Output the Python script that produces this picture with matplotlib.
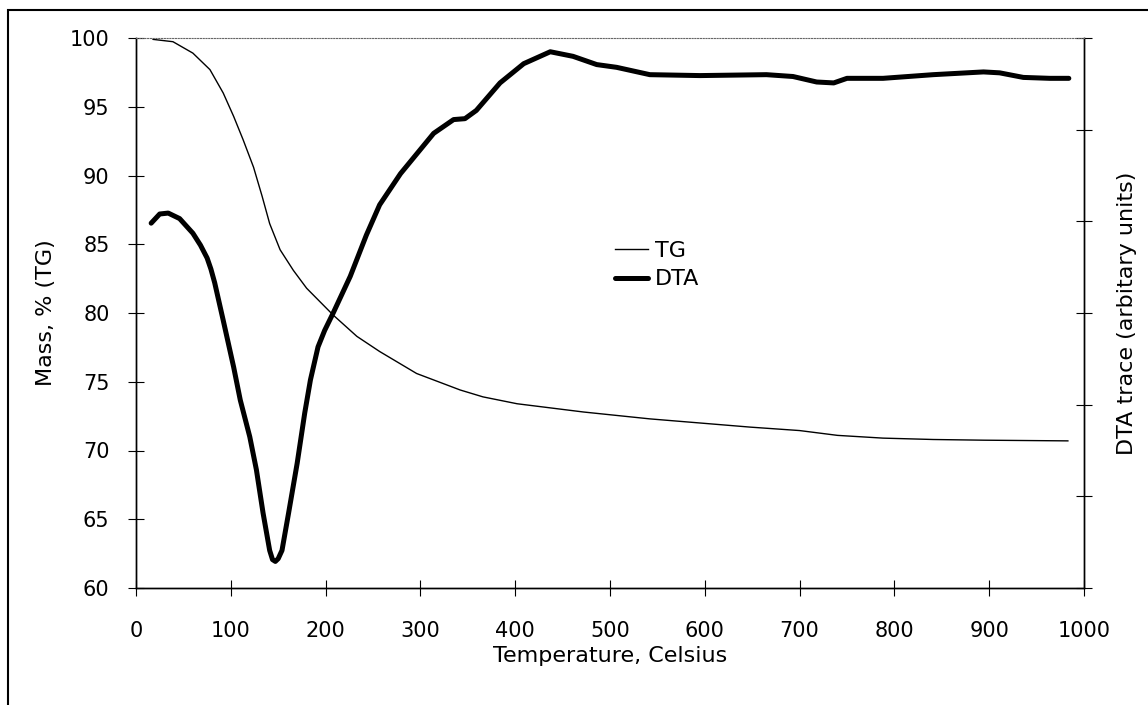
import matplotlib
matplotlib.use("Agg")
import matplotlib.pyplot as plt
from matplotlib.patches import Rectangle

# TG curve (mass %, left axis)
tg_temp = [18, 39, 60, 78, 92, 103, 113, 124, 133, 141, 152, 166, 180, 208, 233,
           257, 296, 342, 366, 402, 472, 542, 595, 648, 700, 740, 788, 841, 894, 983]
tg_mass = [99.9, 99.73, 98.9, 97.7, 96.0, 94.3, 92.6, 90.6, 88.5, 86.5, 84.6, 83.1,
           81.8, 79.85, 78.3, 77.2, 75.6, 74.4, 73.9, 73.4, 72.8, 72.3, 72.0, 71.7,
           71.45, 71.1, 70.9, 70.8, 70.75, 70.7]

# DTA trace (arbitrary units, right axis)
dta_temp = [16, 25, 34, 46, 60, 68, 75, 79, 83, 92, 103, 110, 120, 127, 134, 141,
            144, 147, 150, 154, 161, 170, 178, 184, 192, 199, 208, 226, 243, 257,
            279, 314, 335, 347, 359, 384, 409, 437, 461, 486, 507, 542, 595, 665,
            693, 718, 736, 750, 788, 841, 894, 911, 936, 964, 984]
dta_val = [3.98, 4.08, 4.09, 4.03, 3.87, 3.74, 3.6, 3.48, 3.33, 2.92, 2.41, 2.05,
           1.65, 1.29, 0.82, 0.41, 0.31, 0.29, 0.32, 0.41, 0.82, 1.36, 1.91, 2.27,
           2.63, 2.81, 3.0, 3.4, 3.85, 4.18, 4.52, 4.96, 5.11, 5.12, 5.21, 5.51,
           5.72, 5.85, 5.8, 5.71, 5.68, 5.6, 5.59, 5.6, 5.58, 5.52, 5.51, 5.56,
           5.56, 5.6, 5.63, 5.62, 5.57, 5.56, 5.56]

mass_ticks = list(range(60, 101, 5))
temp_ticks = list(range(0, 1001, 100))

plt.rcParams['font.family'] = ['DejaVu Sans']

fig = plt.figure(figsize=(11.48, 7.05), dpi=100)
ax = fig.add_axes([136 / 1148, 1 - 588 / 705, 948 / 1148, 550 / 705])
ax2 = ax.twinx()

l1, = ax.plot(tg_temp, tg_mass, color='black', lw=1.0, label='TG',
              solid_joinstyle='round')
l2, = ax2.plot(dta_temp, dta_val, color='black', lw=3.6, label='DTA',
               solid_capstyle='round', solid_joinstyle='round')

ax.set_xlim(0, 1000)
ax.set_ylim(60, 100)
ax2.set_ylim(0, 6)
ax.set_xticks(temp_ticks)
ax.set_yticks(mass_ticks)
ax2.set_yticks(range(0, 7))
ax2.set_yticklabels([])

for a in (ax, ax2):
    a.tick_params(direction='inout', length=12, width=0.8, labelsize=15)
    for s in a.spines.values():
        s.set_linewidth(1.0)
ax.spines['top'].set_visible(False)
ax2.spines['top'].set_linestyle((0, (1, 1.5)))
ax2.spines['top'].set_linewidth(0.8)
ax2.spines['top'].set_color('#666666')
ax.tick_params(axis='x', pad=18)
ax.tick_params(axis='y', pad=13)

ax.set_xlabel('Temperature, Celsius', fontsize=16, labelpad=3)
ax.set_ylabel('Mass, % (TG)', fontsize=16, labelpad=10)
ax2.set_ylabel('DTA trace (arbitary units)', fontsize=16, labelpad=14)

ax.legend([l1, l2], ['TG', 'DTA'], frameon=False, fontsize=16,
          loc='upper left', bbox_to_anchor=(615 / 1148, 1 - 241 / 705),
          bbox_transform=fig.transFigure, handlelength=1.5,
          handletextpad=0.3, labelspacing=0.38, borderaxespad=0,
          borderpad=0)

# frame around the figure
fig.patches.append(Rectangle((8 / 1148, -0.05), 1.2, 1 - 10 / 705 + 0.05,
                             transform=fig.transFigure, fill=False,
                             edgecolor='black', lw=1.5))

fig.savefig('out.png', dpi=100)
